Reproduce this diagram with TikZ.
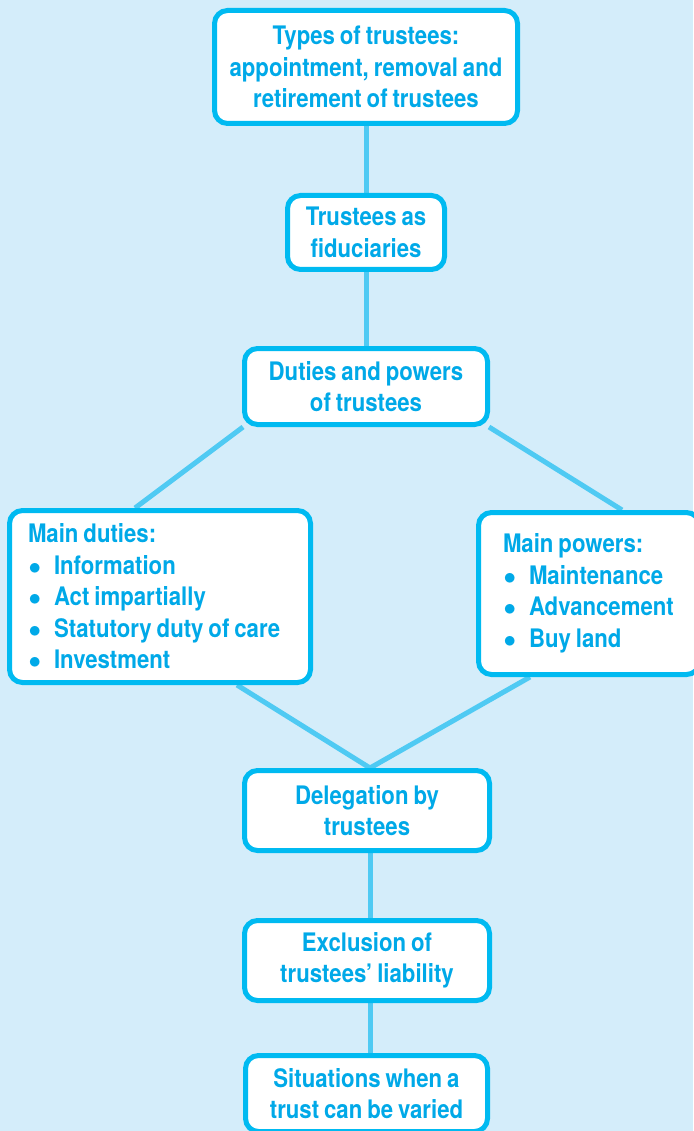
\documentclass[tikz,border=0pt]{standalone}
\usepackage{fontspec}
\setmainfont{TeX Gyre Heros}[FakeStretch=0.87,WordSpace=0.8]
\usetikzlibrary{calc,backgrounds}
\definecolor{bgc}{HTML}{D4EDFA}
\definecolor{boxc}{HTML}{00BAF1}
\definecolor{txtc}{HTML}{00A9E8}
\definecolor{linec}{HTML}{4FCAF3}
\newcommand{\itm}[1]{\mbox{\makebox[26pt][l]{\hspace{0.5pt}$\bullet$}#1}}
\newcommand{\natsp}{\spaceskip=0pt\xspaceskip=0pt\relax}
\tikzset{
  box/.style={draw=boxc, line width=5pt, fill=white, rounded corners=13pt,
    text=txtc, font=\fontsize{25.5}{31.5}\selectfont\bfseries, align=center, inner sep=0pt},
  conn/.style={draw=linec, line width=5pt}
}
\begin{document}
\begin{tikzpicture}[x=1pt,y=-1pt]
\useasboundingbox (0,0) rectangle (693,1131);
\node[box, minimum width=303pt, minimum height=113pt] (t1) at (366,67)
  {Types of trustees:\\appointment, removal and\\retirement of trustees};
\node[box, minimum width=157pt, minimum height=74pt] (t2) at (366,232.5)
  {Trustees as\\fiduciaries};
\node[box, minimum width=243pt, minimum height=76pt] (t3) at (366,386.5)
  {Duties and powers\\of trustees};
\node[box, anchor=west, align=left, inner xsep=18.5pt, text width=264pt,
  minimum height=172pt] (t4) at (7,596.5)
  {\natsp Main duties:\\\itm{Information}\\\itm{Act impartially}\\\itm{Statutory duty of care}\\\itm{Investment}};
\node[box, anchor=west, align=left, inner xsep=24.5pt, text width=172pt,
  minimum height=162pt] (t5) at (476,593.5)
  {\natsp Main powers:\\\itm{Maintenance}\\\itm{Advancement}\\\itm{Buy land}};
\node[box, minimum width=245pt, minimum height=80pt] (t6) at (367,810.5)
  {Delegation by\\trustees};
\node[box, minimum width=245pt, minimum height=80pt] (t7) at (367,960.5)
  {Exclusion of\\trustees’ liability};
\node[box, minimum width=242pt, minimum height=76pt] (t8) at (366.5,1093.5)
  {Situations when a\\trust can be varied};
\coordinate (a1) at ($(t3.south west)+(1,0)$);
\coordinate (a2) at ($(t4.north west)+(128,0)$);
\coordinate (b1) at ($(t3.south east)+(-1,0)$);
\coordinate (b2) at ($(t5.north west)+(146,0)$);
\coordinate (c1) at ($(t4.south west)+(230,0)$);
\coordinate (c2) at ($(t5.south west)+(54,0)$);
\coordinate (m6) at ($(t6.north)+(3,0)$);
\coordinate (s6) at ($(t6.south)+(3,0)$);
\coordinate (n7) at ($(t7.north)+(3,0)$);
\coordinate (s7) at ($(t7.south)+(3,0)$);
\coordinate (n8) at ($(t8.north)+(3.5,0)$);
\begin{scope}[on background layer]
\fill[bgc] (0,0) rectangle (693,1131);
\draw[conn] (t1.south) -- (t2.north);
\draw[conn] (t2.south) -- (t3.north);
\draw[conn] (a1) -- (a2);
\draw[conn] (b1) -- (b2);
\draw[conn] (c1) -- (m6);
\draw[conn] (c2) -- (m6);
\draw[conn] (s6) -- (n7);
\draw[conn] (s7) -- (n8);
\end{scope}
\end{tikzpicture}
\end{document}
